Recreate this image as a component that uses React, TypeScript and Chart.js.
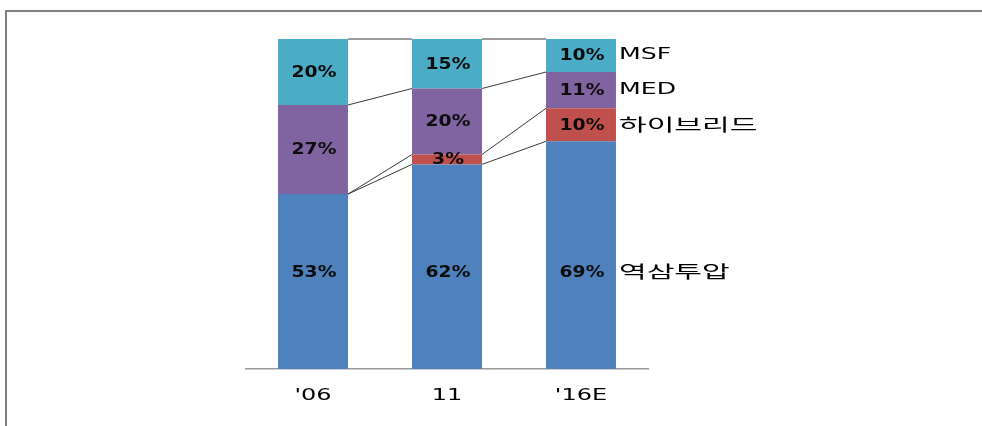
import { useEffect, useRef } from 'react';
import { Chart, registerables } from 'chart.js';

Chart.register(...registerables);

const categories = ["'06", '11', "'16E"];
const seriesNames = ['역삼투압', '하이브리드', 'MED', 'MSF'];
const roValues = [53, 62, 69];
const hybridValues = [0, 3, 10];
const medValues = [27, 20, 11];
const msfValues = [20, 15, 10];
const seriesColors = ['#4F81BD', '#C0504D', '#8064A2', '#4BACC6'];
// value (in %) at which the base-series labels sit
const BASE_LABEL_AT = 29.5;

const seriesValues = [roValues, hybridValues, medValues, msfValues];

function stretchedText(
  ctx: CanvasRenderingContext2D,
  text: string,
  x: number,
  y: number,
  sx: number,
  align: CanvasTextAlign,
  font: string,
  color: string
) {
  ctx.save();
  ctx.translate(x, y);
  ctx.scale(sx, 1);
  ctx.font = font;
  ctx.fillStyle = color;
  ctx.textAlign = align;
  ctx.textBaseline = 'middle';
  ctx.fillText(text, 0, 0);
  ctx.restore();
}

const overlayPlugin = {
  id: 'overlay',
  afterDatasetsDraw(chart: any) {
    const ctx: CanvasRenderingContext2D = chart.ctx;
    const yScale = chart.scales.y;
    const xScale = chart.scales.x;
    const nCat = categories.length;

    // connector lines between segment tops
    ctx.save();
    ctx.strokeStyle = '#3a3a3a';
    ctx.lineWidth = 1;
    chart.data.datasets.forEach((_ds: any, d: number) => {
      const meta = chart.getDatasetMeta(d);
      for (let i = 0; i < nCat - 1; i++) {
        const a = meta.data[i];
        const b = meta.data[i + 1];
        ctx.beginPath();
        ctx.moveTo(a.x + a.width / 2, a.y);
        ctx.lineTo(b.x - b.width / 2, b.y);
        ctx.stroke();
      }
    });
    ctx.restore();

    // value labels and series labels
    chart.data.datasets.forEach((ds: any, d: number) => {
      const meta = chart.getDatasetMeta(d);
      for (let i = 0; i < nCat; i++) {
        const v = ds.data[i];
        const el = meta.data[i];
        const y = d === 0 ? yScale.getPixelForValue(BASE_LABEL_AT) : (el.y + el.base) / 2;
        if (v > 0) {
          stretchedText(ctx, `${v}%`, el.x + 1, y + 1, 1.25, 'center', 'bold 15px "DejaVu Sans"', '#0d0d0d');
        }
        if (i === nCat - 1) {
          const name = seriesNames[d];
          const isLatin = /^[A-Za-z]/.test(name);
          stretchedText(
            ctx,
            name,
            el.x + el.width / 2 + 3,
            y,
            isLatin ? 1.68 : 1.77,
            'left',
            isLatin ? '15px "DejaVu Sans"' : '17px "Noto Sans CJK KR"',
            '#000'
          );
        }
      }
    });

    // category labels
    categories.forEach((c, i) => {
      const x = xScale.getPixelForValue(i);
      stretchedText(ctx, c, x, chart.chartArea.bottom + 27, 1.6, 'center', '15px "DejaVu Sans"', '#000');
    });
  },
};

export default function App() {
  const ref = useRef<HTMLCanvasElement | null>(null);

  useEffect(() => {
    if (!ref.current) return;
    const chart = new Chart(ref.current, {
      type: 'bar',
      data: {
        labels: categories,
        datasets: seriesNames.map((name, d) => ({
          label: name,
          data: seriesValues[d],
          backgroundColor: seriesColors[d],
          borderWidth: 0,
          barPercentage: 0.522,
          categoryPercentage: 1,
        })),
      },
      options: {
        animation: false,
        responsive: false,
        maintainAspectRatio: false,
        events: [],
        layout: { padding: { left: 246, right: 334, top: 39, bottom: 57 } },
        plugins: {
          legend: { display: false },
          tooltip: { enabled: false },
          title: { display: false },
        },
        scales: {
          x: {
            stacked: true,
            grid: { display: false, drawTicks: false },
            border: { display: true, color: '#999999', width: 1.5 },
            ticks: { display: false },
          },
          y: {
            stacked: true,
            display: false,
            min: 0,
            max: 100,
          },
        },
      },
      plugins: [overlayPlugin],
    });
    return () => chart.destroy();
  }, []);

  return (
    <div style={{ position: 'fixed', left: 0, top: 0, width: 982, height: 426, background: '#fff', overflow: 'hidden' }}>
      <div
        style={{
          position: 'absolute',
          left: 5,
          top: 10,
          width: 977,
          height: 416,
          boxSizing: 'border-box',
          borderTop: '2px solid #7f7f7f',
          borderLeft: '2px solid #7f7f7f',
          borderRight: 'none',
          borderBottom: 'none',
        }}
      />
      <canvas ref={ref} width={982} height={426} style={{ position: 'absolute', left: 0, top: 0, display: 'block' }} />
    </div>
  );
}
